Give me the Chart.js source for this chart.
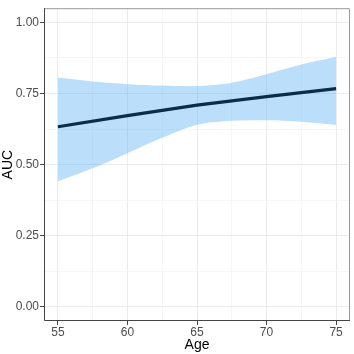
<!DOCTYPE html>
<html><head><meta charset="utf-8">
<script src="https://cdn.jsdelivr.net/npm/chart.js@4/dist/chart.umd.min.js"></script>
<style>html,body{margin:0;padding:0;background:#fff}#wrap{width:354px;height:354px}</style>
</head><body><div id="wrap"><canvas id="c" width="354" height="354"></canvas></div>
<script>
const ages = [55, 57.5, 60, 62.5, 65, 67.5, 70, 72.5, 75];
const upperCI = [0.806, 0.792, 0.783, 0.778, 0.776, 0.788, 0.818, 0.852, 0.878];
const lowerCI = [0.441, 0.487, 0.540, 0.594, 0.640, 0.654, 0.656, 0.651, 0.640];
const lineAges = [55, 60, 65, 70, 75];
const aucFit = [0.633, 0.672, 0.709, 0.739, 0.767];
const xTicks = [55, 60, 65, 70, 75];
const yTicks = [0, 0.25, 0.5, 0.75, 1.0];

const pts = (xs, ys) => xs.map((x, i) => ({x: x, y: ys[i]}));
const xAll = []; for (let i = 0; i < xTicks.length; i++) { xAll.push(xTicks[i]); if (i < xTicks.length - 1) xAll.push((xTicks[i] + xTicks[i+1]) / 2); }
const yAll = []; for (let i = 0; i < yTicks.length; i++) { yAll.push(yTicks[i]); if (i < yTicks.length - 1) yAll.push((yTicks[i] + yTicks[i+1]) / 2); }
const isMajor = (v, arr) => arr.some(t => Math.abs(t - v) < 1e-9);
const FONT = 'Liberation Sans, Arial, sans-serif';

const border = {
  id: 'border',
  afterDraw(chart) {
    const a = chart.chartArea, ctx = chart.ctx;
    ctx.save();
    ctx.lineWidth = 1;
    ctx.strokeStyle = '#9a9a9a';
    ctx.beginPath();
    ctx.moveTo(a.left, a.top + 0.5); ctx.lineTo(a.right - 0.5, a.top + 0.5); ctx.lineTo(a.right - 0.5, a.bottom);
    ctx.stroke();
    ctx.strokeStyle = '#444';
    ctx.beginPath();
    ctx.moveTo(a.left + 0.5, a.top); ctx.lineTo(a.left + 0.5, a.bottom - 0.5); ctx.lineTo(a.right, a.bottom - 0.5);
    ctx.stroke();
    ctx.restore();
  }
};

new Chart(document.getElementById('c'), {
  type: 'line',
  data: {
    datasets: [
      {data: pts(ages, lowerCI), order: 3, borderWidth: 0, pointRadius: 0, fill: false, tension: 0.3, borderColor: 'rgba(0,0,0,0)'},
      {data: pts(ages, upperCI), order: 2, borderWidth: 0, pointRadius: 0, fill: '-1', tension: 0.3, borderColor: 'rgba(0,0,0,0)', backgroundColor: 'rgba(85,172,245,0.4)'},
      {data: pts(lineAges, aucFit), order: 0, borderWidth: 3.2, pointRadius: 0, fill: false, borderColor: '#0B2C4B', tension: 0, borderCapStyle: 'butt'}
    ]
  },
  options: {
    responsive: false,
    animation: false,
    events: [],
    layout: {padding: {left: 0, right: 4, top: 4, bottom: 0}},
    plugins: {legend: {display: false}, tooltip: {enabled: false}},
    scales: {
      x: {
        type: 'linear', min: 54, max: 76,
        afterBuildTicks: s => { s.ticks = xAll.map(v => ({value: v})); },
        afterFit: s => { s.height = 33; },
        border: {display: false},
        grid: {
          color: c => isMajor(c.tick.value, xTicks) ? '#ebebeb' : '#f4f4f4',
          lineWidth: c => isMajor(c.tick.value, xTicks) ? 1 : 0.8,
          tickColor: c => isMajor(c.tick.value, xTicks) ? '#444' : 'rgba(0,0,0,0)',
          tickLength: 4, drawTicks: true
        },
        ticks: {
          autoSkip: false, maxRotation: 0, padding: 0,
          color: '#4d4d4d', font: {family: FONT, size: 12},
          callback: v => isMajor(v, xTicks) ? String(v) : ''
        },
        title: {display: true, text: 'Age', color: '#000', font: {family: FONT, size: 14}, padding: {top: 0, bottom: 0}}
      },
      y: {
        type: 'linear', min: -0.05, max: 1.05,
        afterBuildTicks: s => { s.ticks = yAll.map(v => ({value: v})); },
        afterFit: s => { s.width = 44; },
        border: {display: false},
        grid: {
          color: c => isMajor(c.tick.value, yTicks) ? '#ebebeb' : '#f4f4f4',
          lineWidth: c => isMajor(c.tick.value, yTicks) ? 1 : 0.8,
          tickColor: c => isMajor(c.tick.value, yTicks) ? '#444' : 'rgba(0,0,0,0)',
          tickLength: 4, drawTicks: true
        },
        ticks: {
          autoSkip: false, padding: 1,
          color: '#4d4d4d', font: {family: FONT, size: 12},
          callback: v => isMajor(v, yTicks) ? v.toFixed(2) : ''
        },
        title: {display: true, text: 'AUC', color: '#000', font: {family: FONT, size: 14}, padding: {top: 0, bottom: 0}}
      }
    }
  },
  plugins: [border]
});
</script></body></html>
